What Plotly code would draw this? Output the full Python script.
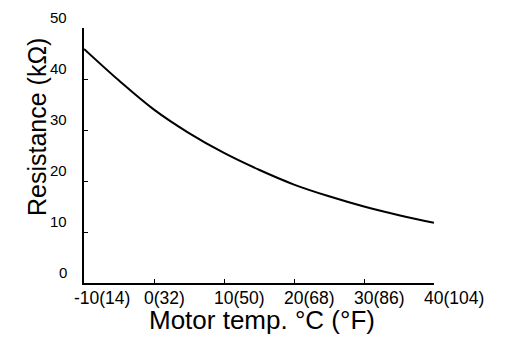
import plotly.graph_objects as go

temps_c = [-10, -5, 0, 5, 10, 15, 20, 25, 30, 35, 40]
resistance_kohm = [45.9, 39.7, 34.0, 29.4, 25.5, 22.2, 19.3, 17.0, 15.0, 13.3, 11.8]

x_tickvals = [-10, 0, 10, 20, 30, 40]
x_ticktext = ["-10(14)", "0(32)", "10(50)", "20(68)", "30(86)", "40(104)"]
y_tickvals = [0, 10, 20, 30, 40, 50]
y_ticktext = ["0", "10", "20", "30", "40", "50"]

x_title = "Motor temp. °C (°F)"
y_title = "Resistance (kΩ)"

FONT = "Liberation Sans, Arial, Helvetica, sans-serif"

fig = go.Figure()
fig.add_trace(go.Scatter(
    x=temps_c, y=resistance_kohm, mode="lines",
    line=dict(color="black", width=2, shape="spline"),
    showlegend=False, hoverinfo="skip",
))

annotations = []
for v, t in zip(x_tickvals, x_ticktext):
    annotations.append(dict(
        text=t, x=v, xref="x", y=0, yref="paper",
        xanchor="left", yanchor="top", xshift=-12, yshift=-3,
        showarrow=False, font=dict(size=17.5, family=FONT, color="black"),
    ))
for v, t in zip(y_tickvals, y_ticktext):
    annotations.append(dict(
        text=t, x=0, xref="paper", y=v, yref="y",
        xanchor="right", yanchor="middle", xshift=-15, yshift=11,
        showarrow=False, font=dict(size=15, family=FONT, color="black"),
    ))
annotations += [
    dict(text=x_title, xref="paper", yref="paper", x=0.509, y=-0.145,
         xanchor="center", yanchor="middle", showarrow=False,
         font=dict(size=26, family=FONT, color="black")),
    dict(text=y_title, xref="paper", yref="paper", x=-0.134, y=0.612,
         xanchor="center", yanchor="middle", showarrow=False, textangle=-90,
         font=dict(size=25, family=FONT, color="black")),
]

fig.update_layout(
    width=512, height=364,
    margin=dict(l=76, r=86, t=20, b=89),
    paper_bgcolor="white", plot_bgcolor="white",
    font=dict(family=FONT, color="black"),
    xaxis=dict(
        range=[-10, 40], showgrid=False, zeroline=False,
        showline=True, linecolor="black", linewidth=2,
        ticks="inside", ticklen=4, tickwidth=1, tickcolor="black",
        tickvals=x_tickvals, showticklabels=False,
    ),
    yaxis=dict(
        range=[0, 50], showgrid=False, zeroline=False,
        showline=True, linecolor="black", linewidth=2,
        ticks="inside", ticklen=4, tickwidth=1, tickcolor="black",
        tickvals=y_tickvals, showticklabels=False,
    ),
    annotations=annotations,
)

fig.write_html("out.html")
